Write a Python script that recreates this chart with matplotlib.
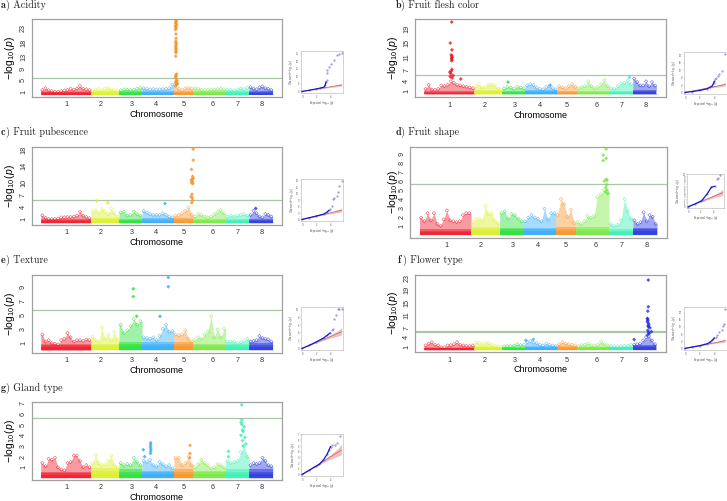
#!/usr/bin/env python3
# -*- coding: utf-8 -*-
# GWAS Manhattan plots with small QQ insets, seven traits on eight chromosomes.
import matplotlib
matplotlib.use("Agg")
import matplotlib.pyplot as plt
import numpy as np

plt.rcParams['font.family'] = 'Liberation Sans'
plt.rcParams['mathtext.fontset'] = 'custom'
plt.rcParams['mathtext.rm'] = 'Liberation Sans'
plt.rcParams['mathtext.it'] = 'Liberation Sans:italic'

W, H = 727, 501

#%% chromosome info
chr_names = ['1', '2', '3', '4', '5', '6', '7', '8']
chr_len = [47.9, 26.7, 22.0, 30.4, 18.5, 30.8, 22.4, 22.5]  # Mb
chr_ticks = [24.7, 57.4, 86.7, 109.9, 136.3, 164.2, 188.0, 211.0]
chr_colors = ['#f01020', '#d8f020', '#20e030', '#30a8f8',
              '#f89020', '#70e838', '#30f0b0', '#2030e0']

#%% upper edge of the SNP cloud along each chromosome, -log10(p)
acid_top = [[1.6, 2.2, 1.5, 1.2, 1.0, 1.0, 1.2, 1.4, 1.6, 2.0, 1.7, 2.1, 3.0, 2.0, 1.8, 1.6],
            [1.4, 1.8, 1.9, 1.6, 2.0, 2.3, 1.8, 1.6, 1.4],
            [1.5, 1.8, 1.7, 1.6, 1.7, 2.0, 2.3],
            [2.2, 2.0, 1.8, 1.9, 1.7, 1.8, 1.9, 2.0, 2.2, 3.5],
            [3.0, 2.0, 1.6, 2.2, 2.3, 2.0],
            [2.2, 2.0, 1.7, 1.5, 1.6, 1.8, 1.7, 1.9, 2.0, 1.8],
            [1.7, 1.6, 1.5, 1.8, 2.1, 1.9, 2.3],
            [2.6, 2.0, 1.8, 2.5, 2.8, 2.2, 2.0, 1.6]]
flesh_top = [[1.6, 2.8, 1.4, 1.3, 1.6, 2.6, 2.4, 2.8, 3.8, 3.4, 2.8, 2.6, 2.4, 2.2, 2.0, 1.8],
             [2.4, 3.0, 2.0, 2.2, 2.8, 3.0, 2.6, 1.8, 1.5],
             [1.7, 2.2, 2.0, 1.6, 2.2, 2.0, 1.8],
             [2.6, 3.0, 2.8, 2.0, 1.6, 1.5, 2.2, 2.4, 1.8, 1.5],
             [2.4, 2.0, 1.8, 2.4, 3.0, 2.2],
             [1.8, 2.2, 2.4, 3.8, 2.4, 1.8, 2.2, 3.0, 4.2, 2.4],
             [1.8, 1.6, 2.4, 3.2, 3.4, 4.0, 3.0],
             [4.6, 3.6, 2.6, 2.6, 3.8, 2.4, 3.6, 2.6]]
pubes_top = [[1.9, 1.3, 1.0, 1.0, 1.0, 1.1, 1.4, 1.4, 1.5, 1.5, 1.6, 1.8, 2.8, 1.8, 1.5, 1.2],
             [2.8, 3.2, 2.6, 3.4, 2.8, 2.2, 3.6, 2.4, 1.6],
             [2.6, 2.8, 1.8, 2.0, 2.8, 2.2, 1.8],
             [3.0, 2.6, 2.2, 2.0, 2.0, 2.0, 2.4, 2.0, 1.6, 1.4],
             [1.8, 2.0, 2.4, 3.0, 3.8, 2.0],
             [1.6, 2.2, 2.0, 1.6, 1.4, 1.6, 2.2, 2.8, 3.2, 2.4],
             [1.6, 1.8, 1.7, 1.8, 2.0, 2.2, 1.8],
             [2.0, 3.0, 2.4, 1.6, 1.4, 2.2, 2.0, 1.6]]
shape_top = [[1.9, 1.5, 2.4, 1.6, 2.4, 1.2, 1.0, 1.7, 2.7, 1.6, 1.5, 1.4, 1.5, 2.2, 2.4, 2.4],
             [1.4, 1.7, 1.8, 1.6, 3.2, 2.3, 2.4, 1.6, 1.3],
             [2.4, 2.6, 1.8, 2.3, 2.2, 1.8, 1.5],
             [1.5, 1.9, 2.2, 1.9, 1.8, 1.5, 2.9, 1.7, 2.4, 2.4],
             [2.2, 4.0, 3.4, 2.0, 2.8, 1.3],
             [1.4, 1.2, 1.5, 2.1, 1.9, 2.1, 4.2, 4.5, 5.0, 4.8],
             [1.2, 1.0, 1.1, 1.6, 4.0, 2.6, 1.8],
             [1.6, 1.2, 1.4, 2.5, 1.5, 2.2, 2.0, 1.2]]
texture_top = [[2.2, 1.2, 1.4, 1.0, 0.9, 0.8, 1.4, 1.6, 2.4, 1.8, 1.2, 1.4, 1.4, 1.3, 1.5, 1.4],
               [1.9, 1.4, 1.2, 3.2, 1.6, 2.2, 1.4, 2.6, 1.5],
               [3.6, 2.4, 2.8, 3.4, 4.4, 3.6, 4.1],
               [1.8, 1.7, 1.6, 1.8, 1.4, 2.0, 3.0, 3.6, 2.6, 2.7],
               [2.2, 2.1, 2.2, 2.8, 1.6, 1.2],
               [1.4, 1.8, 1.6, 2.2, 2.6, 4.8, 1.8, 2.9, 1.8, 3.0],
               [1.2, 1.2, 1.2, 1.0, 1.1, 1.3, 1.6],
               [1.2, 1.3, 1.4, 2.0, 1.7, 1.6, 1.5, 1.2]]
flower_top = [[1.4, 2.0, 2.4, 1.6, 1.4, 0.8, 0.8, 1.4, 1.5, 1.8, 2.4, 1.6, 1.4, 1.3, 1.2, 1.4],
              [2.4, 2.2, 1.8, 2.2, 2.2, 1.6, 1.3, 1.1, 1.0],
              [1.1, 1.2, 1.2, 1.4, 1.8, 1.5, 1.6],
              [2.4, 2.8, 2.3, 2.2, 1.6, 1.4, 2.0, 1.6, 1.4, 1.2],
              [1.8, 2.4, 2.0, 1.8, 1.6, 1.4],
              [1.2, 1.5, 1.6, 2.0, 1.4, 1.3, 1.6, 2.6, 1.8, 1.4],
              [1.2, 1.1, 1.1, 1.2, 1.2, 1.3, 1.6],
              [1.6, 1.8, 2.0, 3.0, 4.0, 4.4, 3.0, 1.8]]
gland_top = [[1.4, 1.1, 1.8, 1.7, 1.9, 1.0, 0.8, 0.7, 1.4, 1.5, 2.1, 2.1, 1.6, 1.0, 1.2, 1.0],
             [1.4, 2.2, 1.4, 1.2, 1.3, 1.6, 2.1, 1.2, 1.0],
             [1.4, 1.2, 1.3, 1.2, 1.9, 1.5, 1.2],
             [1.6, 1.5, 1.7, 1.2, 1.1, 1.5, 1.3, 1.1, 1.2, 0.9],
             [1.9, 1.9, 1.2, 1.4, 2.0, 1.2],
             [1.0, 1.3, 1.7, 1.4, 1.2, 0.9, 1.0, 1.3, 1.2, 1.0],
             [1.6, 1.4, 1.5, 1.6, 2.4, 3.0, 2.0],
             [1.2, 1.4, 1.3, 1.4, 1.9, 1.6, 1.2, 1.1]]

# height below which the SNPs merge into a solid mass, per chromosome
acid_core = [1.2, 1.3, 1.2, 1.3, 1.3, 1.2, 1.2, 1.4]
flesh_core = [1.1, 1.3, 1.0, 1.2, 1.1, 1.1, 1.1, 1.3]
pubes_core = [0.9, 1.2, 1.0, 1.2, 1.2, 1.0, 1.1, 1.0]
shape_core = [0.6, 0.9, 0.8, 0.8, 0.9, 0.9, 0.6, 0.8]
texture_core = [0.9, 0.9, 1.2, 1.1, 1.1, 0.9, 0.9, 1.0]
flower_core = [0.9, 1.2, 0.9, 1.1, 1.1, 1.0, 1.0, 1.6]
gland_core = [0.6, 0.9, 0.8, 0.7, 0.8, 0.7, 0.8, 0.8]

#%% SNPs standing out from the cloud (position in Mb, -log10(p))
acid_hit_x = [128.9, 129.2, 128.6, 128.9, 129.4, 128.4, 128.9, 129.0, 128.5, 128.9, 129.0, 128.8,
              128.9, 129.1, 128.9, 128.8, 129.0, 128.9, 128.9, 128.9, 128.7, 129.6,
              128.6, 129.0, 128.4, 129.8, 128.9, 129.3, 128.6, 130.4, 129.6, 128.8]
acid_hit_y = [25.8, 25.4, 25.0, 24.6, 24.2, 23.8, 23.4, 23.0, 22.5, 21.0, 19.5, 18.5,
              18.0, 17.5, 17.0, 16.5, 16.0, 15.5, 15.0, 14.5, 13.3, 7.1,
              6.7, 6.3, 5.8, 5.0, 4.6, 4.3, 4.0, 3.8, 3.4, 3.1]
flesh_hit_x = [26.4, 25.0, 26.6, 26.0, 26.4, 26.8, 26.2, 26.6, 26.4, 26.6, 26.0, 24.6, 25.6,
               27.8, 25.0, 26.8, 35.0, 80.0, 120.0, 195.5]
flesh_hit_y = [21.1, 15.0, 13.0, 11.5, 11.2, 10.8, 10.5, 10.2, 9.8, 7.3, 6.8, 6.5, 6.0,
               5.5, 5.2, 4.8, 4.5, 3.6, 2.7, 5.0]
pubes_hit_x = [145.4, 145.4, 143.8, 144.8, 145.4, 144.2, 143.6, 144.8, 143.8, 145.0, 144.2,
               143.4, 144.4, 144.8, 144.0, 53.0, 64.0, 118.4, 205.0]
pubes_hit_y = [18.2, 15.5, 13.2, 11.5, 11.0, 10.8, 10.5, 10.2, 9.9, 9.7, 7.1, 6.5, 6.2,
               5.6, 5.0, 5.5, 5.0, 4.8, 3.6]
shape_hit_x = [173.7, 171.0, 171.0, 173.7, 173.7, 174.6, 172.0, 174.2, 173.4, 174.6, 173.0, 175.2]
shape_hit_y = [9.6, 8.9, 8.3, 8.55, 6.2, 6.1, 6.0, 5.6, 5.3, 5.0, 4.8, 4.6]
texture_hit_x = [88.2, 88.2, 121.6, 121.6, 113.7, 91.5]
texture_hit_y = [8.7, 7.6, 10.3, 9.0, 4.8, 4.8]
flower_hit_x = [213.5, 213.5, 213.0, 212.6, 212.8, 213.2, 212.6, 213.4, 214.0, 213.2, 213.8,
                215.0, 216.5, 213.0, 213.8, 214.4, 212.6, 200.0, 104.0, 97.0]
flower_hit_y = [22.2, 13.7, 12.3, 10.0, 9.8, 9.4, 9.0, 8.5, 8.0, 7.6, 7.3,
                7.0, 5.8, 6.2, 5.5, 5.2, 4.7, 3.3, 3.3, 3.0]
gland_hit_x = [191.6, 191.6, 191.0, 191.8, 194.0, 192.4, 193.0, 191.0, 194.6, 192.4, 195.6, 193.0,
               104.8, 104.8, 104.6, 105.0, 104.8, 104.6, 97.8, 99.0, 142.3, 142.3, 142.0, 179.0, 179.0]
gland_hit_y = [6.85, 5.45, 5.2, 5.0, 4.8, 4.5, 4.35, 4.0, 3.8, 3.5, 3.2, 3.0,
               3.3, 3.1, 2.9, 2.7, 2.5, 2.3, 2.65, 2.0, 3.05, 2.3, 1.9, 2.5, 2.0]

#%% QQ insets: expected and observed -log10(p); nd = how many of them lie on the dense part
acid_qq_x = [0, 1, 2, 2.5, 3.0, 3.2, 3.33, 3.4, 3.4, 3.5, 3.7, 4.0, 4.4, 4.8, 5.1, 5.5]
acid_qq_y = [0, 0.8, 1.7, 2.2, 2.8, 4.0, 6.3, 7.5, 12.0, 14.0, 16.0, 18.0, 21.0, 24.0, 25.0, 25.8]
flesh_qq_x = [0, 1, 2, 3, 3.4, 3.7, 3.9, 4.0, 4.1, 4.2, 4.5, 4.7, 5.0, 5.5]
flesh_qq_y = [0, 0.5, 1.1, 2.0, 2.8, 3.5, 5.0, 6.0, 7.5, 8.0, 9.0, 10.0, 11.5, 21.1]
pubes_qq_x = [0, 1, 2, 3, 3.5, 3.7, 3.9, 4.1, 4.3, 4.5, 4.8, 5.0, 5.2, 5.5]
pubes_qq_y = [0, 0.8, 1.6, 2.5, 3.5, 4.2, 5.0, 6.5, 9.5, 10.0, 11.0, 13.0, 15.5, 18.2]
shape_qq_x = [0, 1, 2, 2.3, 3, 3.7, 4.2, 4.6, 4.8, 5.06]
shape_qq_y = [0, 0.8, 1.7, 2.2, 3.9, 6.0, 6.2, 8.4, 8.8, 9.6]
texture_qq_x = [0, 1, 2, 3, 3.5, 3.9, 4.2, 4.3, 4.5, 4.7, 5.0, 5.2, 5.5]
texture_qq_y = [0, 0.8, 1.7, 2.7, 3.4, 4.0, 4.8, 4.9, 7.6, 8.7, 10.3, 10.3, 10.3]
flower_qq_x = [0, 1, 2, 3, 3.4, 3.7, 4.0, 4.2, 4.4, 4.7, 5.0, 5.2, 5.3, 5.5]
flower_qq_y = [0, 0.8, 1.5, 2.6, 3.4, 4.5, 5.8, 6.5, 7.5, 9.0, 10.0, 12.3, 13.7, 22.2]
gland_qq_x = [0, 1, 2, 2.4, 3, 3.5, 3.74, 3.96, 4.2, 4.6, 4.84, 5.3]
gland_qq_y = [0, 0.75, 1.5, 1.8, 2.6, 3.6, 4.3, 4.9, 5.1, 5.2, 5.5, 6.85]

# confidence band and null line shared by the insets
band_x = [0, 1, 2, 3, 4, 5, 5.5]
band_hi = [0, 0.85, 1.7, 2.6, 3.5, 4.6, 5.4]
band_lo = [0, 0.75, 1.45, 2.1, 2.7, 3.2, 3.5]
null_x = [0, 5.5]
null_y = [0, 4.3]

#%% panels: letter, trait, y ticks, threshold, cloud, hits, qq, pixel boxes (l, t, r, b)
panels = [
    dict(letter='a', name='Acidity', yticks=[1, 5, 9, 13, 18, 23], thr=5.65, ylim=(-0.84, 26.2),
         top=acid_top, core=acid_core, hx=acid_hit_x, hy=acid_hit_y, qx=acid_qq_x, qy=acid_qq_y, nd=7,
         box=(31.5, 19, 282, 97), inset=(300.7, 51, 343, 93), title=(1, 5), ylab_x=10, xlab=True),
    dict(letter='b', name='Fruit flesh color', yticks=[1, 4, 7, 11, 15, 19], thr=5.58, ylim=(-0.84, 21.9),
         top=flesh_top, core=flesh_core, hx=flesh_hit_x, hy=flesh_hit_y, qx=flesh_qq_x, qy=flesh_qq_y, nd=8,
         box=(414.7, 19.3, 665.7, 97.3), inset=(683.7, 52, 726.7, 94), title=(396, 5), ylab_x=393, xlab=True),
    dict(letter='c', name='Fruit pubescence', yticks=[1, 4, 7, 10, 14, 18], thr=5.6, ylim=(-0.48, 18.8),
         top=pubes_top, core=pubes_core, hx=pubes_hit_x, hy=pubes_hit_y, qx=pubes_qq_x, qy=pubes_qq_y, nd=6,
         box=(31.5, 146.7, 282, 225), inset=(300.7, 179, 343, 221), title=(1, 132), ylab_x=10, xlab=True),
    dict(letter='d', name='Fruit shape', yticks=[1, 2, 3, 4, 5, 6, 7, 8, 9], thr=5.64, ylim=(-0.34, 9.85),
         top=shape_top, core=shape_core, hx=shape_hit_x, hy=shape_hit_y, qx=shape_qq_x, qy=shape_qq_y, nd=7,
         box=(410, 146.7, 666.7, 237.7), inset=(687, 174, 724, 208), title=(396, 132), ylab_x=393, xlab=False),
    dict(letter='e', name='Texture', yticks=[1, 3, 5, 7, 9], thr=5.64, ylim=(-0.42, 10.7),
         top=texture_top, core=texture_core, hx=texture_hit_x, hy=texture_hit_y, qx=texture_qq_x, qy=texture_qq_y, nd=6,
         box=(31.5, 274.7, 282, 353), inset=(300.7, 307, 343, 350), title=(1, 260), ylab_x=10, xlab=True),
    dict(letter='f', name='Flower type', yticks=[1, 4, 7, 11, 15, 19, 23], thr=5.76, ylim=(-0.78, 23.9),
         top=flower_top, core=flower_core, hx=flower_hit_x, hy=flower_hit_y, qx=flower_qq_x, qy=flower_qq_y, nd=7,
         box=(414.7, 274.7, 665.7, 352.3), inset=(683.7, 307, 726.7, 350), title=(398, 260), ylab_x=393, xlab=True),
    dict(letter='g', name='Gland type', yticks=[1, 2, 3, 4, 5, 6, 7], thr=5.59, ylim=(-0.19, 7.09),
         top=gland_top, core=gland_core, hx=gland_hit_x, hy=gland_hit_y, qx=gland_qq_x, qy=gland_qq_y, nd=8,
         box=(31.5, 402.3, 282, 480), inset=(300.7, 434, 343, 476), title=(1, 388), ylab_x=10, xlab=True),
]

c_spine = '#a0a0a0'
c_thr = '#a8c8a8'


def add_px_axes(fig, box):
    l, t, r, b = box
    return fig.add_axes([l / W, 1 - b / H, (r - l) / W, (b - t) / H])


fig = plt.figure(figsize=(W / 100, H / 100), dpi=100)
chr_start = np.concatenate([[0], np.cumsum(chr_len)])

for p in panels:
    ax = add_px_axes(fig, p['box'])
    ax_w = p['box'][2] - p['box'][0]
    ax_h = p['box'][3] - p['box'][1]

    # SNP cloud per chromosome: pale envelope, soft stacked mass below, open diamonds on the peaks
    for cc in range(len(chr_len)):
        heights = np.asarray(p['top'][cc])
        step = chr_len[cc] / len(heights)
        pos = chr_start[cc] + (np.arange(len(heights)) + 0.5) * step
        x_edge = np.concatenate([[chr_start[cc]], pos, [chr_start[cc + 1]]])
        y_edge = np.concatenate([[heights[0]], heights, [heights[-1]]])
        ax.fill_between(x_edge, 0, y_edge, color=chr_colors[cc], alpha=0.42,
                        linewidth=0, zorder=1)
        for k in (0.5, 0.75, 1.0):
            ax.fill_between(x_edge, 0, np.minimum(y_edge, p['core'][cc] * k), color=chr_colors[cc],
                            alpha=0.45, linewidth=0, zorder=1)
        ax.scatter(pos, heights, marker='D', s=3, facecolors='none',
                   edgecolors=chr_colors[cc], linewidths=0.35, alpha=0.8, zorder=2)

    # stand-out SNPs, coloured by their chromosome
    hx = np.asarray(p['hx'])
    hy = np.asarray(p['hy'])
    idx = np.clip(np.searchsorted(chr_start, hx) - 1, 0, 7)
    ax.scatter(hx, hy, marker='D', s=3, c=[chr_colors[i] for i in idx],
               linewidths=0.2, alpha=0.8, zorder=3)

    ax.axhline(p['thr'], color=c_thr, linewidth=1.6 if p['letter'] == 'f' else 0.9, zorder=0)
    ax.set_xlim(-8.85, 230.05)
    ax.set_ylim(*p['ylim'])
    ax.set_xticks(chr_ticks)
    ax.set_xticklabels(chr_names, fontsize=5.2, color='#333333')
    ax.set_yticks(p['yticks'])
    ax.set_yticklabels([str(v) for v in p['yticks']], fontsize=5.2, rotation=90,
                       va='center', color='#333333')
    ax.tick_params(axis='both', length=0, pad=3.2)
    for s in ax.spines.values():
        s.set_color(c_spine)
        s.set_linewidth(0.9)
    ax.set_ylabel(r'$-\log_{10}(p)$', fontsize=7.5, va='center')
    ax.yaxis.set_label_coords((p['ylab_x'] - p['box'][0]) / ax_w, 0.5)
    if p['xlab']:
        ax.set_xlabel('Chromosome', fontsize=6.5, va='center')
        ax.xaxis.set_label_coords(0.5, -17.7 / ax_h)

    # title
    tx, ty = p['title']
    fig.text(tx / W, 1 - ty / H, p['letter'], family='cmb10', fontsize=7.2, va='center', color='#222222')
    fig.text((tx + 5) / W, 1 - ty / H, ') ' + p['name'], family='cmr10', fontsize=7.2, va='center',
             color='#222222')

    # QQ inset
    axq = add_px_axes(fig, p['inset'])
    axq.fill_between(band_x, band_lo, band_hi, color='#f0c0c0', linewidth=0, zorder=1)
    axq.plot(null_x, null_y, color='#c06060', linewidth=0.5, zorder=2)
    axq.plot(p['qx'], p['qy'], linestyle='none', marker='.', markersize=1.0,
             color='#8888e0', zorder=3)
    axq.plot(p['qx'][:p['nd']], p['qy'][:p['nd']], color='#1818c8', linewidth=0.9, zorder=4)
    qtop = max(p['qy'])
    axq.set_xlim(-0.2, 5.7)
    axq.set_ylim(-0.04 * qtop, 1.04 * qtop)
    axq.set_xticks([0, 2, 4])
    axq.set_yticks(np.arange(0, qtop + 1, max(1, int(qtop / 5))))
    axq.tick_params(axis='both', length=0.8, width=0.2, pad=0.4, labelsize=1.8, labelcolor='#555555',
                    color='#888888')
    axq.set_xlabel(r'Expected $-\log_{10}(p)$', fontsize=2, labelpad=0.5, color='#555555')
    axq.set_ylabel(r'Observed $-\log_{10}(p)$', fontsize=2, labelpad=0.5, color='#555555')
    for s in axq.spines.values():
        s.set_color('#b0b0b0')
        s.set_linewidth(0.4)

fig.savefig('out.png', dpi=100)
